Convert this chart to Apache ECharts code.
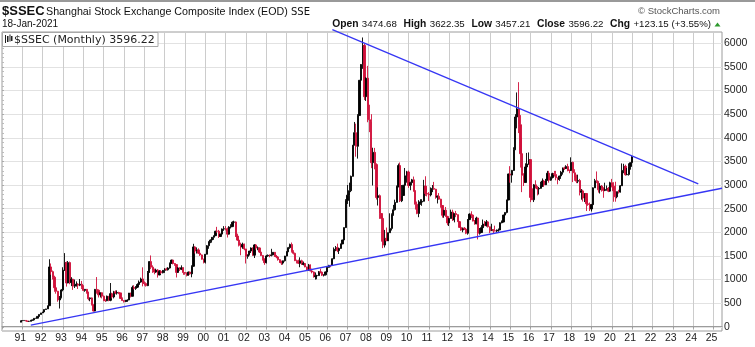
<!DOCTYPE html>
<html>
<head>
<meta charset="utf-8">
<script src="https://cdn.jsdelivr.net/npm/echarts@6/dist/echarts.min.js"></script>
<style>
html,body{margin:0;padding:0;background:#fff;}
#c{width:755px;height:347px;}
</style>
</head>
<body>
<div id="c"></div>
<script>
// ---- Data: $SSEC monthly bars, Dec 1990 .. Jan 2021 ----
const firstMonth = '1990-12';
const opens = [
96,
128,130,134,120,114,115,138,144,178,181,219,260,
293,313,365,378,445,1266,1167,1048,826,751,568,622,
780,1198,1359,926,1358,935,1007,860,887,902,880,900,
834,770,792,734,594,611,468,333,791,772,676,720,
648,562,551,647,560,701,630,738,712,725,717,600,
555,537,538,566,714,645,833,812,838,895,946,1012,
917,914,870,1151,1380,1262,1199,1157,1200,1097,1170,1143,
1194,1222,1206,1243,1343,1411,1339,1316,1150,1246,1218,1247,
1147,1134,1090,1158,1120,1280,1690,1601,1627,1557,1520,1429,
1367,1535,1715,1800,1836,1894,1928,2023,2021,1910,1961,2070,
2073,2065,1960,2112,2120,2214,2218,1920,1834,1724,1689,1747,
1646,1490,1524,1603,1667,1515,1732,1666,1669,1581,1507,1437,
1357,1500,1512,1510,1521,1576,1487,1476,1421,1367,1348,1397,
1497,1590,1675,1742,1595,1555,1399,1386,1342,1396,1320,1340,
1267,1191,1306,1181,1159,1060,1080,1083,1162,1155,1092,1099,
1161,1258,1299,1298,1440,1641,1672,1612,1658,1753,1837,2099,
2675,2786,2881,3184,3841,4109,3820,4471,5218,5552,5955,4871,
5262,4383,4348,3473,3693,3433,2736,2775,2397,2293,1729,1871,
1821,1991,2082,2373,2477,2633,2959,3412,2667,2779,2996,3195,
3277,2989,3051,3110,2871,2593,2398,2638,2639,2656,2979,2820,
2808,2791,2905,2928,2911,2743,2762,2701,2567,2359,2468,2333,
2199,2292,2428,2262,2397,2373,2225,2103,2047,2086,2069,1980,
2269,2385,2365,2237,2178,2301,1979,1994,2098,2175,2141,2220,
2116,2033,2056,2033,2026,2039,2048,2202,2217,2364,2420,2683,
3235,3210,3310,3748,4441,4612,4277,3664,3206,3053,3383,3445,
3539,2738,2688,3004,2938,2917,2930,2979,3085,3005,3100,3250,
3104,3159,3242,3223,3155,3117,3192,3273,3361,3349,3393,3317,
3307,3481,3259,3169,3082,3095,2847,2876,2725,2821,2603,2588,
2494,2585,2941,3091,3078,2899,2979,2933,2886,2905,2929,2871,
3050,2977,2880,2750,2860,2852,2985,3310,3396,3218,3225,3392,
3474.68
];
const highs = [
128,
135,134,135,121,115,138,145,179,183,219,260,293,
314,366,380,446,1429,1340,1190,1080,880,760,650,800,
1260,1559,1380,1392,1380,1050,1010,1000,960,920,1010,970,
880,800,800,740,620,620,470,800,1052,790,730,730,
660,580,660,650,926,720,760,770,770,740,720,620,
560,570,580,715,720,870,880,860,920,980,1040,1258,
960,940,1180,1390,1510,1300,1230,1230,1220,1200,1200,1200,
1240,1250,1260,1360,1420,1420,1350,1320,1260,1260,1300,1260,
1160,1150,1170,1170,1300,1756,1700,1680,1660,1570,1530,1440,
1540,1730,1810,1850,1900,1930,2030,2115,2050,1970,2080,2130,
2131,2100,2130,2170,2230,2245,2230,1970,1860,1780,1780,1760,
1650,1530,1610,1680,1680,1748,1750,1700,1680,1590,1520,1440,
1520,1530,1530,1650,1580,1580,1520,1480,1430,1400,1400,1500,
1600,1690,1760,1783,1620,1570,1420,1420,1470,1420,1380,1350,
1270,1330,1320,1230,1170,1150,1100,1180,1230,1160,1110,1170,
1260,1310,1310,1450,1680,1710,1760,1670,1760,1840,2100,2700,
3000,3050,3200,3850,4335,4300,4500,5220,5560,6124,5990,5280,
5523,4700,4500,3790,3786,3460,2950,2800,2400,2334,2050,2100,
1995,2402,2400,2580,2690,2990,3454,3478,3000,3000,3361,3300,
3306,3070,3130,3180,2890,2650,2680,2700,2700,3110,3186,2940,
2850,2950,3000,3067,2920,2780,2830,2710,2570,2470,2536,2350,
2300,2480,2478,2400,2453,2380,2240,2140,2100,2110,2080,2280,
2400,2444,2380,2260,2330,2310,2090,2150,2270,2240,2260,2230,
2120,2180,2070,2140,2060,2080,2210,2250,2370,2420,2690,3240,
3400,3320,3800,4500,4960,5178,4480,4000,3250,3460,3680,3690,
3540,2930,3020,3100,2980,2960,3070,3140,3110,3130,3300,3300,
3180,3260,3300,3300,3160,3200,3300,3370,3390,3420,3450,3320,
3587,3495,3335,3220,3220,3130,2915,2900,2830,2830,2700,2630,
2600,2950,3130,3288,3080,3040,3000,2950,3050,2990,2960,3070,
3130,3060,3070,2860,2900,3000,3458,3450,3430,3360,3460,3474,
3622.35
];
const lows = [
96,
127,129,119,105,105,114,137,143,176,180,218,259,
292,312,360,376,445,1100,1000,740,700,530,386,600,
750,1180,850,920,900,860,780,820,850,800,860,800,
760,740,700,560,540,450,325,330,700,620,620,600,
540,525,540,540,540,600,600,690,680,690,590,550,
512,520,530,560,620,640,790,780,820,880,930,855,
870,850,860,1140,1220,1140,1110,1140,1040,1090,1120,1130,
1140,1190,1190,1230,1330,1320,1290,1043,1140,1180,1200,1100,
1100,1065,1080,1100,1047,1270,1550,1550,1540,1500,1420,1340,
1340,1530,1650,1770,1780,1840,1920,1990,1880,1900,1960,2030,
2040,1890,1950,2080,2110,2180,1900,1820,1700,1514,1650,1620,
1339,1440,1510,1560,1500,1455,1630,1620,1560,1500,1400,1311,
1340,1480,1470,1490,1510,1480,1450,1400,1350,1307,1316,1380,
1490,1580,1650,1570,1530,1390,1340,1330,1260,1310,1300,1259,
1180,1180,1170,1130,1040,998,1005,1080,1130,1075,1065,1085,
1160,1250,1260,1290,1430,1600,1580,1540,1650,1750,1830,2090,
2600,2540,2850,3180,3840,3600,3560,4470,5030,5460,4800,4780,
4330,4120,3357,2990,3333,2693,2566,2284,1802,1664,1678,1814,
1814,1990,2037,2350,2460,2630,2960,2640,2639,2780,2990,3050,
2940,2890,2990,2860,2481,2382,2319,2580,2560,2650,2770,2760,
2661,2760,2850,2900,2710,2610,2690,2520,2310,2307,2330,2149,
2132,2290,2240,2210,2320,2220,2100,2030,2000,2050,1960,1949,
2260,2300,2230,2160,2170,1849,1950,1990,2090,2130,2120,2100,
1985,2030,1974,2020,1990,2010,2040,2190,2210,2300,2400,2680,
3050,3050,3300,3740,4200,4100,3370,2850,2980,3050,3330,3430,
2638,2682,2640,2930,2780,2800,2950,2960,2960,3000,3100,3050,
3090,3140,3180,3100,3016,3090,3130,3220,3320,3340,3290,3250,
3300,3062,3090,3040,3040,2780,2690,2650,2640,2450,2560,2450,
2440,2580,2940,3040,2840,2820,2860,2730,2870,2880,2850,2860,
2950,2646,2647,2720,2820,2840,2980,3250,3200,3210,3200,3325,
3457.21
];
const closes = [
128,
130,134,120,114,115,138,144,178,181,219,260,293,
313,365,378,445,1266,1167,1048,826,751,568,622,780,
1198,1359,926,1358,935,1007,860,887,902,880,900,834,
770,792,734,594,611,468,333,791,772,676,720,648,
562,551,647,560,701,630,738,712,725,717,600,555,
537,538,566,714,645,833,812,838,895,946,1012,917,
914,870,1151,1380,1262,1199,1157,1200,1097,1170,1143,1194,
1222,1206,1243,1343,1411,1339,1316,1150,1246,1218,1247,1147,
1134,1090,1158,1120,1280,1690,1601,1627,1557,1520,1429,1367,
1535,1715,1800,1836,1894,1928,2023,2021,1910,1961,2070,2073,
2065,1960,2112,2120,2214,2218,1920,1834,1724,1689,1747,1646,
1490,1524,1603,1667,1515,1732,1666,1669,1581,1507,1437,1357,
1500,1512,1510,1521,1576,1487,1476,1421,1367,1348,1397,1497,
1590,1675,1742,1595,1555,1399,1386,1342,1396,1320,1340,1267,
1191,1306,1181,1159,1060,1080,1083,1162,1155,1092,1099,1161,
1258,1299,1298,1440,1641,1672,1612,1658,1753,1837,2099,2675,
2786,2881,3184,3841,4109,3820,4471,5218,5552,5955,4871,5262,
4383,4348,3473,3693,3433,2736,2775,2397,2293,1729,1871,1821,
1991,2082,2373,2477,2633,2959,3412,2667,2779,2996,3195,3277,
2989,3051,3110,2871,2593,2398,2638,2639,2656,2979,2820,2808,
2791,2905,2928,2911,2743,2762,2701,2567,2359,2468,2333,2199,
2292,2428,2262,2397,2373,2225,2103,2047,2086,2069,1980,2269,
2385,2365,2237,2178,2301,1979,1994,2098,2175,2141,2220,2116,
2033,2056,2033,2026,2039,2048,2202,2217,2364,2420,2683,3235,
3210,3310,3748,4441,4612,4277,3664,3206,3053,3383,3445,3539,
2738,2688,3004,2938,2917,2930,2979,3085,3005,3100,3250,3104,
3159,3242,3223,3155,3117,3192,3273,3361,3349,3393,3317,3307,
3481,3259,3169,3082,3095,2847,2876,2725,2821,2603,2588,2494,
2585,2941,3091,3078,2899,2979,2933,2886,2905,2929,2871,3050,
2977,2880,2750,2860,2852,2985,3310,3396,3218,3225,3392,3473,
3596.22
];
// trend lines: [month, value] end points
const upperTrend = [['2006-04', 6290], ['2024-04', 3023]];
const lowerTrend = [['1991-06', 33], ['2025-06', 2932]];
// y tick labels
const yTicks = {min: 0, max: 6000, step: 500};
// axis span (months shown)
const axisStartYear = 1990, axisEndYear = 2025, axisEndMonth = 6;

// ---- build categories ----
const months = [];
for (let y = axisStartYear; y <= axisEndYear; y++) {
  for (let m = 1; m <= 12; m++) {
    if (y === axisEndYear && m > axisEndMonth) break;
    months.push(y + '-' + String(m).padStart(2, '0'));
  }
}
const startIdx = months.indexOf(firstMonth);
const candleData = months.map((m, i) => {
  const k = i - startIdx;
  if (k >= 0 && k < closes.length) return [opens[k], closes[k], lows[k], highs[k]];
  return '-';
});
const isJan = (i, v) => v.slice(5) === '01';
const isLabelJan = (i, v) => i > 0 && v.slice(5) === '01';

const chart = echarts.init(document.getElementById('c'), null, {renderer: 'canvas'});
const RED = '#d0103a';
const BLUE = '#3636f4';
const lastClose = closes[closes.length - 1];

chart.setOption({
  animation: false,
  backgroundColor: '#ffffff',
  grid: [
    {left: 2, right: 33, top: 32, bottom: 16, show: true, borderColor: '#9c9c9c', borderWidth: 1, backgroundColor: 'transparent', containLabel: false},
    {left: 2, right: 33, top: 43.34, bottom: 20.25, show: false, containLabel: false}
  ],
  xAxis: [
    {
      type: 'category', gridIndex: 0, data: months, boundaryGap: false,
      axisLine: {show: true, lineStyle: {color: '#9c9c9c'}},
      axisTick: {show: true, interval: isJan, length: 2, lineStyle: {color: '#9c9c9c'}},
      axisLabel: {show: true, interval: isLabelJan, hideOverlap: false,
        formatter: v => v.slice(2, 4),
        fontFamily: 'Liberation Sans, Arial, sans-serif', fontSize: 10.5, color: '#222', margin: 2, padding: [0, 4, 0, 0]},
      splitLine: {show: true, interval: isJan, lineStyle: {color: '#cccccc', width: 1}}
    },
    {type: 'value', gridIndex: 1, min: 0, max: 1, show: false}
  ],
  yAxis: [
    {type: 'value', gridIndex: 0, min: -90, max: 6240, show: false, splitLine: {show: false}},
    {
      type: 'value', gridIndex: 1, position: 'right', min: yTicks.min, max: yTicks.max, interval: yTicks.step,
      axisLine: {show: false},
      axisTick: {show: true, length: 2, lineStyle: {color: '#aaaaaa'}},
      minorTick: {show: true, splitNumber: 5, length: 2, lineStyle: {color: '#bbbbbb'}},
      axisLabel: {show: true, formatter: v => String(v), fontFamily: 'Liberation Sans, Arial, sans-serif', fontSize: 10.5, color: '#222', margin: 2},
      splitLine: {show: true, lineStyle: {color: '#e2e2e2', width: 1}}
    }
  ],
  series: [
    {
      type: 'candlestick', xAxisIndex: 0, yAxisIndex: 0, data: candleData,
      barWidth: 1.7, silent: true, clip: false, z: 3, large: false,
      itemStyle: {color: '#000000', color0: RED, borderColor: '#000000', borderColor0: RED, borderWidth: 0.9}
    },
    {
      type: 'line', xAxisIndex: 0, yAxisIndex: 0, data: upperTrend, symbol: 'none', clip: false, silent: true, z: 5,
      lineStyle: {color: BLUE, width: 1.3}
    },
    {
      type: 'line', xAxisIndex: 0, yAxisIndex: 0, data: lowerTrend, symbol: 'none', clip: false, silent: true, z: 5,
      lineStyle: {color: BLUE, width: 1.3}
    }
  ],
  graphic: [
    {type: 'rect', shape: {x: 0, y: 0, width: 755, height: 2}, style: {fill: '#999999'}, silent: true},
    {type: 'text', x: 2, y: 11, style: {text: '$SSEC', font: 'bold 13px "Liberation Sans", Arial, sans-serif', fill: '#111', textVerticalAlign: 'middle'}},
    {type: 'text', x: 46, y: 12, style: {text: 'Shanghai Stock Exchange Composite Index (EOD)', font: '10.7px "Liberation Sans", Arial, sans-serif', fill: '#111', textVerticalAlign: 'middle'}},
    {type: 'text', x: 291, y: 12.5, style: {text: 'SSE', font: '10px "DejaVu Sans", sans-serif', fill: '#111', textVerticalAlign: 'middle'}},
    {type: 'text', x: 2, y: 24, style: {text: '18-Jan-2021', font: '10px "Liberation Sans", Arial, sans-serif', fill: '#111', textVerticalAlign: 'middle'}},
    {type: 'text', x: 720, y: 11.5, style: {text: '\u00A9 StockCharts.com', font: '9.5px "Liberation Sans", Arial, sans-serif', fill: '#555', textAlign: 'right', textVerticalAlign: 'middle'}},
    {type: 'text', x: 711, y: 24, style: {
      text: '{b|Open} {n|3474.68}  {b|High} {n|3622.35}  {b|Low} {n|3457.21}  {b|Close} {n|3596.22}  {b|Chg} {n|+123.15 (+3.55%)}',
      textAlign: 'right', textVerticalAlign: 'middle',
      rich: {
        b: {font: 'bold 10.3px "Liberation Sans", Arial, sans-serif', fill: '#111'},
        n: {font: '9.7px "Liberation Sans", Arial, sans-serif', fill: '#111'}
      }
    }},
    {type: 'polygon', shape: {points: [[714.5, 26.5], [720.5, 26.5], [717.5, 22.5]]}, style: {fill: '#2e9a2e'}, silent: true},
    // legend box
    {type: 'rect', z: 50, shape: {x: 2.5, y: 32.5, width: 155.5, height: 14}, style: {fill: '#ffffff', stroke: '#a8a8a8', lineWidth: 1}, silent: true},
    {type: 'rect', z: 51, shape: {x: 5, y: 35, width: 1, height: 8}, style: {fill: '#222'}},
    {type: 'rect', z: 51, shape: {x: 7, y: 36, width: 1.5, height: 6}, style: {fill: '#222'}},
    {type: 'rect', z: 51, shape: {x: 9.5, y: 34.5, width: 1, height: 7}, style: {fill: '#222'}},
    {type: 'rect', z: 51, shape: {x: 11, y: 36, width: 1.5, height: 5}, style: {fill: '#222'}},
    {type: 'text', z: 51, x: 14, y: 40, style: {text: '$SSEC (Monthly) ' + lastClose.toFixed(2), font: '11px "DejaVu Sans", sans-serif', fill: '#222', textVerticalAlign: 'middle'}}
  ]
});
</script>
</body>
</html>
